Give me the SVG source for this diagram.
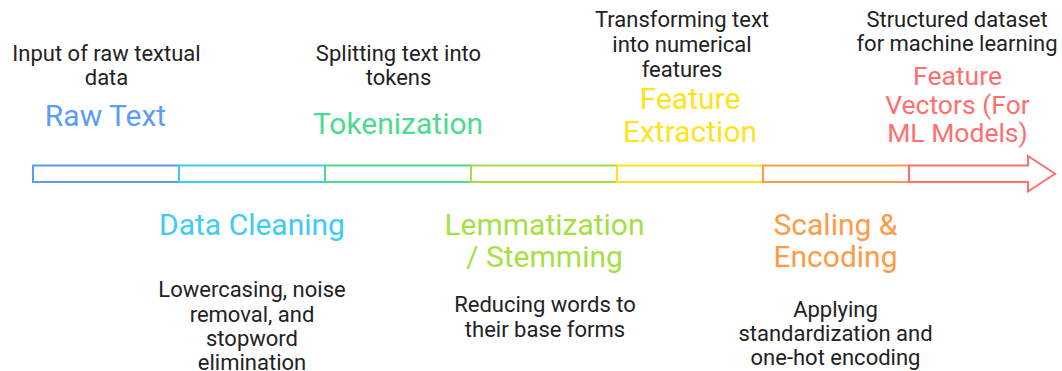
<svg xmlns="http://www.w3.org/2000/svg" width="1062" height="371" viewBox="0 0 1062 371">
  <style>
    text { font-family: Roboto, "Liberation Sans", sans-serif; text-anchor: middle; }
    .title { font-size: 30px; }
    .title-sm { font-size: 26.5px; }
    .desc { font-size: 22px; fill: #222222; }
    .seg { fill: #ffffff; stroke-width: 2; }
  </style>
  <rect width="1062" height="371" fill="#ffffff"/>

  <!-- timeline bar -->
  <g id="connectors">
    <rect class="seg" x="33" y="165.5" width="146" height="16.5" stroke="#5b9cf8"/>
    <rect class="seg" x="179" y="165.5" width="146" height="16.5" stroke="#3ecbf7"/>
    <rect class="seg" x="325" y="165.5" width="146" height="16.5" stroke="#4ddb90"/>
    <rect class="seg" x="471" y="165.5" width="146" height="16.5" stroke="#a6df44"/>
    <rect class="seg" x="617" y="165.5" width="146" height="16.5" stroke="#ffe31c"/>
    <rect class="seg" x="763" y="165.5" width="146" height="16.5" stroke="#ff9b45"/>
    <path class="seg" d="M909 165.5 H1028 V156 L1055 173.75 L1028 191.5 V182 H909 Z" stroke="#ff6f6f" stroke-linejoin="miter"/>
  </g>

  <g id="raw-text">
    <text class="desc" x="106.5" y="60.5">Input of raw textual</text>
    <text class="desc" x="106.5" y="84.5">data</text>
    <text class="title" x="105.5" y="126" fill="#5b9cf8">Raw Text</text>
  </g>

  <g id="data-cleaning">
    <text class="title" x="252" y="235" fill="#3ecbf7">Data Cleaning</text>
    <text class="desc" x="252" y="297">Lowercasing, noise</text>
    <text class="desc" x="252" y="321.5">removal, and</text>
    <text class="desc" x="252" y="346">stopword</text>
    <text class="desc" x="252" y="370">elimination</text>
  </g>

  <g id="tokenization">
    <text class="desc" x="398.5" y="60.5">Splitting text into</text>
    <text class="desc" x="398.5" y="84.5">tokens</text>
    <text class="title" x="398" y="134" fill="#4ddb90">Tokenization</text>
  </g>

  <g id="lemmatization">
    <text class="title" x="544.5" y="235" fill="#a6df44">Lemmatization</text>
    <text class="title" x="544.5" y="267" fill="#a6df44">/ Stemming</text>
    <text class="desc" x="545" y="311.5">Reducing words to</text>
    <text class="desc" x="545" y="336.5">their base forms</text>
  </g>

  <g id="feature-extraction">
    <text class="desc" x="682" y="27">Transforming text</text>
    <text class="desc" x="682" y="52">into numerical</text>
    <text class="desc" x="682" y="76.5">features</text>
    <text class="title" x="690" y="108.5" fill="#ffe31c">Feature</text>
    <text class="title" x="690" y="141.5" fill="#ffe31c">Extraction</text>
  </g>

  <g id="scaling-encoding">
    <text class="title" x="835.5" y="235" fill="#ff9b45">Scaling &amp;</text>
    <text class="title" x="835.5" y="267" fill="#ff9b45">Encoding</text>
    <text class="desc" x="835.5" y="317">Applying</text>
    <text class="desc" x="835.5" y="341">standardization and</text>
    <text class="desc" x="835.5" y="365">one-hot encoding</text>
  </g>

  <g id="feature-vectors">
    <text class="desc" x="957" y="26.5">Structured dataset</text>
    <text class="desc" x="957" y="51">for machine learning</text>
    <text class="title-sm" x="957.5" y="85" fill="#ff6f6f">Feature</text>
    <text class="title-sm" x="957.5" y="114" fill="#ff6f6f">Vectors (For</text>
    <text class="title-sm" x="957.5" y="142" fill="#ff6f6f">ML Models)</text>
  </g>
</svg>
